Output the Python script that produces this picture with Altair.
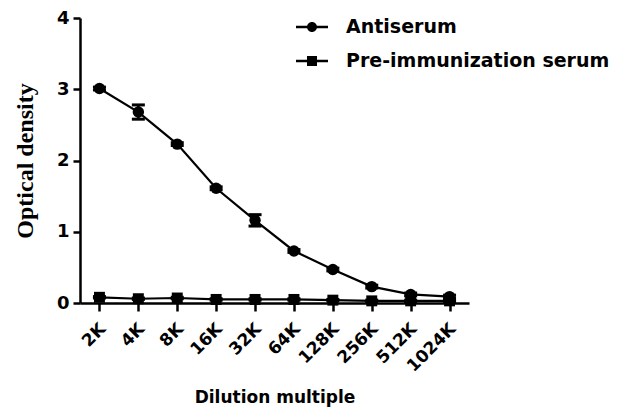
import altair as alt
import pandas as pd

dilutions = ["2K", "4K", "8K", "16K", "32K", "64K", "128K", "256K", "512K", "1024K"]
antiserum = [3.01, 2.68, 2.23, 1.61, 1.16, 0.73, 0.47, 0.23, 0.12, 0.09]
antiserum_err = [0.02, 0.10, 0.02, 0.02, 0.08, 0.02, 0.02, 0.02, 0.02, 0.02]
preimmune = [0.08, 0.06, 0.07, 0.05, 0.05, 0.05, 0.04, 0.03, 0.03, 0.03]
preimmune_err = [0.01] * 10
series_names = ["Antiserum", "Pre-immunization serum"]

rows = []
for name, vals, errs in [(series_names[0], antiserum, antiserum_err),
                         (series_names[1], preimmune, preimmune_err)]:
    for d, v, e in zip(dilutions, vals, errs):
        rows.append({"dilution": d, "od": v, "lo": v - e, "hi": v + e, "series": name})
df = pd.DataFrame(rows)

FONT = "DejaVu Sans"

x = alt.X("dilution:N", sort=dilutions,
          scale=alt.Scale(type="point", padding=0.5),
          axis=alt.Axis(title="Dilution multiple", labelAngle=-45, labelAlign="right",
                        labelBaseline="middle", labelFontSize=17, labelFontWeight="bold",
                        labelFont=FONT, labelColor="black", labelPadding=15, labelOffset=3,
                        titleFont=FONT, titleFontSize=17, titleFontWeight="bold",
                        titleColor="black", titlePadding=15,
                        domainColor="black", domainWidth=2.5, tickColor="black",
                        tickWidth=2.5, tickSize=8, grid=False))
y = alt.Y("od:Q", scale=alt.Scale(domain=[0, 4], nice=False),
          axis=alt.Axis(title="Optical density", values=[0, 1, 2, 3, 4], format="d",
                        labelFontSize=18, labelFontWeight="bold", labelFont=FONT,
                        labelColor="black", labelPadding=4,
                        titleFont="Liberation Serif", titleFontSize=24, titleFontWeight="bold",
                        titleColor="black", titlePadding=19,
                        domainColor="black", domainWidth=2.5, tickColor="black",
                        tickWidth=2.5, tickSize=7, grid=False))

base = alt.Chart(df)

lines = base.mark_line(color="black", strokeWidth=2.2).encode(
    x=x, y=y, detail="series:N")

err_rule = base.mark_rule(color="black", strokeWidth=2.5, opacity=1).encode(
    x=x, y="lo:Q", y2="hi:Q")
err_lo = base.mark_tick(color="black", thickness=3, size=13, orient="horizontal",
                        opacity=1).encode(x=x, y="lo:Q")
err_hi = base.mark_tick(color="black", thickness=3, size=13, orient="horizontal",
                        opacity=1).encode(x=x, y="hi:Q")

points = base.mark_point(filled=True, color="black", opacity=1).encode(
    x=x, y=y,
    shape=alt.Shape("series:N", scale=alt.Scale(domain=series_names, range=["circle", "square"]),
                    legend=None),
    size=alt.Size("series:N", scale=alt.Scale(domain=series_names, range=[130, 120]), legend=None))

bar_part = "M-1.6,-0.12L1.6,-0.12L1.6,0.12L-1.6,0.12Z"
circle_path = bar_part + "M0.5,0A0.5,0.5,0,1,1,-0.5,0A0.5,0.5,0,1,1,0.5,0Z"
square_path = bar_part + "M-0.5,-0.5L0.5,-0.5L0.5,0.5L-0.5,0.5Z"

legend_layer = base.transform_filter("datum.od < -100").mark_point(
    filled=True, color="black", opacity=1).encode(
    x=x, y=y,
    shape=alt.Shape("series:N", scale=alt.Scale(domain=series_names, range=[circle_path, square_path]),
                    legend=alt.Legend(title=None, orient="none", legendX=222, legendY=-1,
                                      symbolSize=400, symbolOpacity=1, symbolFillColor="black",
                                      symbolStrokeWidth=0,
                                      labelFont=FONT, labelFontSize=19, labelFontWeight="bold",
                                      labelColor="black", labelOffset=24, rowPadding=14,
                                      labelLimit=400, padding=0)))

chart = alt.layer(lines, err_rule, err_lo, err_hi, points, legend_layer).resolve_scale(
    shape="independent", size="independent"
).properties(width=389, height=285, background="white",
             padding={"left": 5, "top": 1, "right": 5, "bottom": 5}).configure_view(stroke=None)

chart.save("out.html", embed_options={"renderer": "svg", "actions": False})
